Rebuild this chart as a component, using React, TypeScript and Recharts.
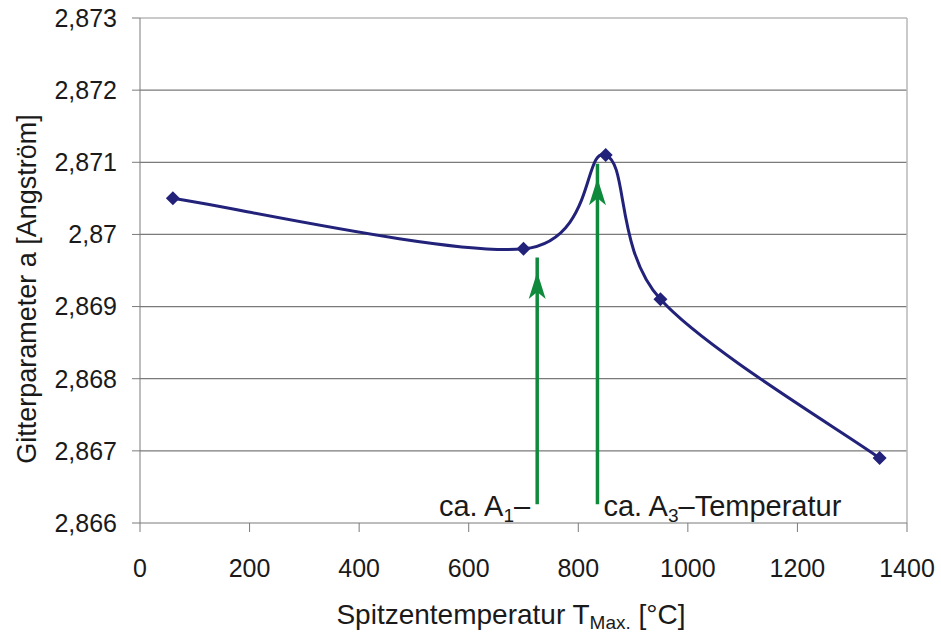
import React from 'react';
import {
  LineChart,
  Line,
  XAxis,
  YAxis,
  CartesianGrid,
  ReferenceLine,
  ReferenceDot,
  Label,
} from 'recharts';

// Spitzentemperatur [°C] and lattice parameter [Å]
const TEMPS = [60, 700, 850, 950, 1350];
const LATTICE = [2.8705, 2.8698, 2.8711, 2.8691, 2.8669];

const X_TICKS = [0, 200, 400, 600, 800, 1000, 1200, 1400];
const Y_TICKS = [2.866, 2.867, 2.868, 2.869, 2.87, 2.871, 2.872, 2.873];

// green arrows: x position, foot, tip
const ARROW_X = [725, 835];
const ARROW_FOOT = [2.86626, 2.86626];
const ARROW_TIP = [2.86948, 2.87078];

const NAVY = '#22227a';
const GREEN = '#0f8a3c';
const FONT = '"Liberation Sans", Arial, Helvetica, sans-serif';

const data = TEMPS.map((t, i) => ({ t, a: LATTICE[i] }));

// smoothed line like the spreadsheet program (Catmull-Rom as bezier)
const smoothCurve = (context: any) => {
  let pts: number[][] = [];
  return {
    areaStart() {},
    areaEnd() {},
    lineStart() {
      pts = [];
    },
    point(x: number, y: number) {
      pts.push([+x, +y]);
    },
    lineEnd() {
      if (!pts.length) return;
      context.moveTo(pts[0][0], pts[0][1]);
      for (let i = 0; i < pts.length - 1; i++) {
        const p0 = pts[Math.max(i - 1, 0)];
        const p1 = pts[i];
        const p2 = pts[i + 1];
        const p3 = pts[Math.min(i + 2, pts.length - 1)];
        context.bezierCurveTo(
          p1[0] + (p2[0] - p0[0]) / 6,
          p1[1] + (p2[1] - p0[1]) / 6,
          p2[0] - (p3[0] - p1[0]) / 6,
          p2[1] - (p3[1] - p1[1]) / 6,
          p2[0],
          p2[1]
        );
      }
    },
  };
};

const Diamond = (props: any) => {
  const { cx, cy } = props;
  if (cx == null || cy == null) return null;
  const s = 7;
  return (
    <path
      d={`M${cx},${cy - s}L${cx + s},${cy}L${cx},${cy + s}L${cx - s},${cy}Z`}
      fill={NAVY}
    />
  );
};

const ArrowHead = (props: any) => {
  const { cx, cy } = props;
  return (
    <path
      d={`M${cx},${cy}L${cx + 8.5},${cy + 27}L${cx},${cy + 20}L${cx - 8.5},${cy + 27}Z`}
      fill={GREEN}
    />
  );
};

const A1Text = (props: any) => {
  const { cx, cy } = props;
  return (
    <text x={cx - 7} y={cy + 12} textAnchor="end" fontSize={29} fontFamily={FONT} fill="#1a1a1a">
      ca. A
      <tspan fontSize={19} dy={6}>1</tspan>
      <tspan dy={-6}>–</tspan>
    </text>
  );
};

const A3Text = (props: any) => {
  const { cx, cy } = props;
  return (
    <text x={cx + 6} y={cy + 12} textAnchor="start" fontSize={29} fontFamily={FONT} fill="#1a1a1a">
      ca. A
      <tspan fontSize={19} dy={6}>3</tspan>
      <tspan dy={-6}>–Temperatur</tspan>
    </text>
  );
};

const fmt = (v: number) => String(Number(v.toFixed(3))).replace('.', ',');

export default function App() {
  return (
    <div style={{ position: 'absolute', left: 0, top: 0, background: '#fff' }}>
      <LineChart
        width={941}
        height={633}
        data={data}
        margin={{ top: 18, right: 34, bottom: 0, left: 0 }}
      >
        <CartesianGrid
          vertical={false}
          horizontalValues={Y_TICKS.slice(1, -1)}
          stroke="#7a7a7a"
          strokeWidth={1.2}
        />
        <ReferenceLine y={2.873} stroke="#b8b8b8" strokeWidth={1.5} />
        <ReferenceLine x={1400} stroke="#b8b8b8" strokeWidth={1.5} />
        <XAxis
          dataKey="t"
          type="number"
          domain={[0, 1400]}
          ticks={X_TICKS}
          height={110}
          tickSize={9}
          tickMargin={27}
          stroke="#7a7a7a"
          tick={{ fontSize: 25, fontFamily: FONT, fill: '#1a1a1a' }}
        >
          <Label
            content={() => (
              <text x={511} y={624} textAnchor="middle" fontSize={28} fontFamily={FONT} fill="#1a1a1a">
                Spitzentemperatur T
                <tspan fontSize={19} dy={5}>Max.</tspan>
                <tspan dy={-5}> [°C]</tspan>
              </text>
            )}
          />
        </XAxis>
        <YAxis
          dataKey="a"
          type="number"
          domain={[2.866, 2.873]}
          ticks={Y_TICKS}
          width={140}
          tickSize={8}
          tickMargin={15}
          stroke="#7a7a7a"
          tickFormatter={fmt}
          tick={{ fontSize: 25, fontFamily: FONT, fill: '#1a1a1a' }}
        >
          <Label
            content={() => (
              <text
                transform="translate(36,289) rotate(-90)"
                textAnchor="middle"
                fontSize={27}
                fontFamily={FONT}
                fill="#1a1a1a"
              >
                Gitterparameter a [Angström]
              </text>
            )}
          />
        </YAxis>
        {ARROW_X.map((x, i) => (
          <ReferenceLine
            key={`shaft-${i}`}
            segment={[
              { x, y: ARROW_FOOT[i] },
              { x, y: ARROW_TIP[i] + 0.0002 },
            ]}
            stroke={GREEN}
            strokeWidth={3.5}
          />
        ))}
        {ARROW_X.map((x, i) => (
          <ReferenceDot key={`head-${i}`} x={x} y={ARROW_TIP[i]} shape={ArrowHead} />
        ))}
        <ReferenceDot x={ARROW_X[0]} y={ARROW_FOOT[0]} shape={A1Text} />
        <ReferenceDot x={ARROW_X[1]} y={ARROW_FOOT[1]} shape={A3Text} />
        <Line
          dataKey="a"
          type={smoothCurve as any}
          stroke={NAVY}
          strokeWidth={3}
          dot={<Diamond />}
          activeDot={false}
          isAnimationActive={false}
        />
      </LineChart>
    </div>
  );
}
